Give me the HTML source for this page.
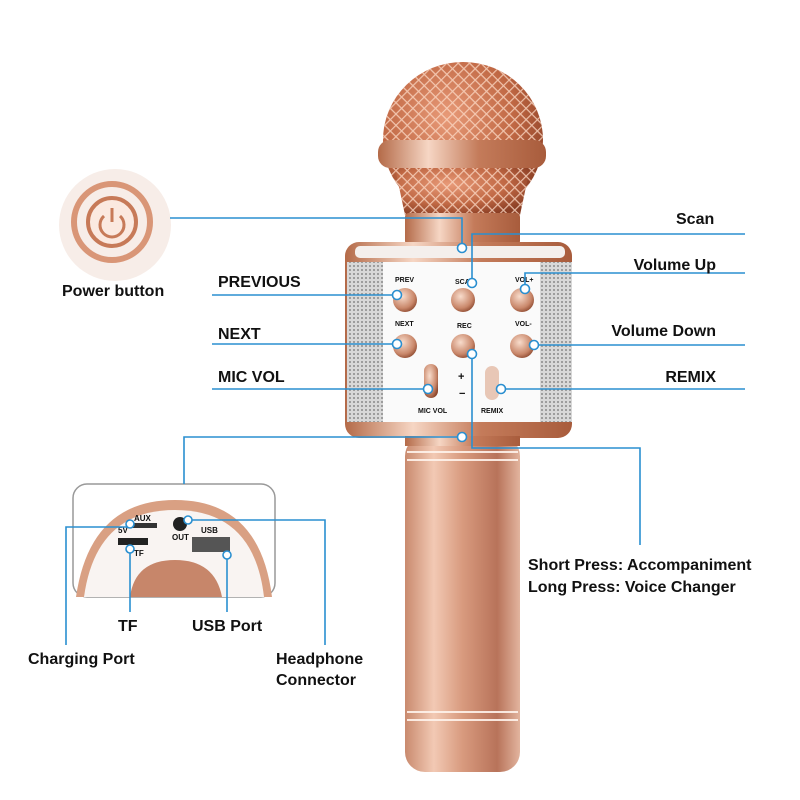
<!DOCTYPE html>
<html><head><meta charset="utf-8"><style>
html,body{margin:0;padding:0;background:#fff;}
svg{display:block}
text{font-family:"Liberation Sans",Arial,sans-serif;font-weight:bold;fill:#111}
</style></head><body>
<svg width="800" height="800" viewBox="0 0 800 800" xmlns="http://www.w3.org/2000/svg">
<defs>
<linearGradient id="rg" x1="0" x2="1" y1="0" y2="0">
<stop offset="0" stop-color="#c98a6e"/><stop offset="0.25" stop-color="#f2c9b4"/><stop offset="0.5" stop-color="#d89a7e"/><stop offset="0.8" stop-color="#b8735a"/><stop offset="1" stop-color="#e2b49e"/></linearGradient>
<linearGradient id="rim" x1="0" x2="1"><stop offset="0" stop-color="#b46a48"/><stop offset="0.3" stop-color="#f6d6c4"/><stop offset="0.6" stop-color="#c47b5a"/><stop offset="1" stop-color="#a85c3c"/></linearGradient>
<radialGradient id="head" cx="0.4" cy="0.35" r="0.7"><stop offset="0" stop-color="#e89a78"/><stop offset="0.6" stop-color="#c06844"/><stop offset="1" stop-color="#8a3e24"/></radialGradient>
<pattern id="mesh" width="8" height="8" patternUnits="userSpaceOnUse" patternTransform="rotate(45)"><path d="M0 0H8M0 0V8" stroke="#fbd8c4" stroke-width="2.4" opacity="0.8"/></pattern>
<pattern id="grill" width="4" height="4" patternUnits="userSpaceOnUse"><rect width="4" height="4" fill="#d8d8d8"/><circle cx="2" cy="2" r="1" fill="#8a8a8a"/></pattern>
<radialGradient id="btn" cx="0.4" cy="0.35" r="0.7"><stop offset="0" stop-color="#f8dccc"/><stop offset="0.7" stop-color="#c9876a"/><stop offset="1" stop-color="#8e4a30"/></radialGradient>
</defs>

<!-- Mic head -->
<ellipse cx="463" cy="140" rx="80" ry="78" fill="url(#head)"/>
<ellipse cx="463" cy="140" rx="80" ry="78" fill="url(#mesh)"/>
<rect x="378" y="140" width="168" height="28" rx="12" fill="url(#rim)"/>
<path d="M395 168 H530 L520 215 H405 Z" fill="url(#head)"/>
<path d="M395 168 H530 L520 215 H405 Z" fill="url(#mesh)"/>
<rect x="405" y="213" width="115" height="32" rx="4" fill="url(#rim)"/>
<!-- Body -->
<rect x="345" y="242" width="227" height="196" rx="14" fill="url(#rim)"/>
<rect x="347" y="262" width="36" height="160" fill="url(#grill)"/>
<rect x="540" y="262" width="32" height="160" fill="url(#grill)"/>
<rect x="383" y="262" width="157" height="160" fill="#fafafa"/>
<rect x="355" y="246" width="210" height="12" rx="5" fill="#f4efec"/>
<!-- buttons -->
<g>
<text x="395" y="282" font-size="7" font-weight="normal">PREV</text>
<text x="455" y="284" font-size="7" font-weight="normal">SCAN</text>
<text x="515" y="282" font-size="7" font-weight="normal">VOL+</text>
<text x="395" y="326" font-size="7" font-weight="normal">NEXT</text>
<text x="457" y="328" font-size="7" font-weight="normal">REC</text>
<text x="515" y="326" font-size="7" font-weight="normal">VOL-</text>
<text x="418" y="413" font-size="7" font-weight="normal">MIC VOL</text>
<text x="481" y="413" font-size="7" font-weight="normal">REMIX</text>
<text x="458" y="380" font-size="11">+</text>
<text x="459" y="397" font-size="11">−</text>
</g>
<circle cx="405" cy="300" r="12" fill="url(#btn)"/>
<circle cx="463" cy="300" r="12" fill="url(#btn)"/>
<circle cx="522" cy="300" r="12" fill="url(#btn)"/>
<circle cx="405" cy="346" r="12" fill="url(#btn)"/>
<circle cx="463" cy="346" r="12" fill="url(#btn)"/>
<circle cx="522" cy="346" r="12" fill="url(#btn)"/>
<rect x="424" y="364" width="14" height="34" rx="7" fill="url(#btn)"/>
<rect x="485" y="366" width="14" height="34" rx="7" fill="#e8c7b6"/>
<!-- handle -->
<rect x="405" y="436" width="115" height="336" rx="20" fill="url(#rg)"/>
<rect x="405" y="436" width="115" height="10" fill="url(#rim)"/>
<g stroke="#fff3ec" stroke-width="2" opacity="0.9">
<line x1="407" y1="452" x2="518" y2="452"/><line x1="407" y1="460" x2="518" y2="460"/>
<line x1="407" y1="712" x2="518" y2="712"/><line x1="407" y1="720" x2="518" y2="720"/>
</g>

<!-- power button inset -->
<circle cx="115" cy="225" r="56" fill="#f7ede8"/>
<circle cx="112" cy="222" r="38" fill="none" stroke="#d99677" stroke-width="6"/>
<circle cx="112" cy="222" r="24" fill="#fbe9e0" stroke="#c77a58" stroke-width="4"/>
<path d="M104 216 A12 12 0 1 0 120 216" fill="none" stroke="#c77a58" stroke-width="3"/>
<line x1="112" y1="208" x2="112" y2="222" stroke="#c77a58" stroke-width="3"/>

<!-- bottom inset -->
<rect x="73" y="484" width="202" height="113" rx="14" fill="#fff" stroke="#999" stroke-width="1.5"/>
<path d="M76 597 Q90 500 175 500 Q260 500 272 597 Z" fill="#d9a083"/>
<path d="M84 597 Q96 510 175 510 Q254 510 264 597 Z" fill="#f9f4f2"/>
<path d="M130 597 Q135 560 175 560 Q215 560 222 597 Z" fill="#c7866a"/>
<rect x="132" y="523" width="25" height="5" fill="#333"/>
<rect x="118" y="538" width="30" height="7" fill="#222"/>
<circle cx="180" cy="524" r="7" fill="#222"/>
<rect x="192" y="537" width="38" height="15" fill="#555"/>
<g font-weight="normal" font-size="8"><text x="134" y="521">AUX</text><text x="118" y="533">5V</text><text x="134" y="556">TF</text><text x="172" y="540">OUT</text><text x="201" y="533">USB</text></g>

<!-- connector lines -->
<g stroke="#2a8fd0" stroke-width="1.6" fill="none">
<polyline points="170,218 462,218 462,248"/>
<polyline points="745,234 472,234 472,283"/>
<polyline points="745,273 525,273 525,289"/>
<line x1="212" y1="295" x2="397" y2="295"/>
<line x1="212" y1="344" x2="397" y2="344"/>
<line x1="212" y1="389" x2="428" y2="389"/>
<line x1="534" y1="345" x2="745" y2="345"/>
<line x1="501" y1="389" x2="745" y2="389"/>
<polyline points="184,484 184,437 462,437"/>
<polyline points="472,354 472,448 640,448 640,545"/>
<polyline points="66,645 66,527 130,527 130,524"/>
<line x1="130" y1="549" x2="130" y2="612"/>
<line x1="227" y1="555" x2="227" y2="612"/>
<polyline points="188,520 325,520 325,645"/>
</g>
<g fill="#fff" stroke="#2a8fd0" stroke-width="1.6">
<circle cx="462" cy="248" r="4.5"/><circle cx="472" cy="283" r="4.5"/><circle cx="525" cy="289" r="4.5"/>
<circle cx="397" cy="295" r="4.5"/><circle cx="397" cy="344" r="4.5"/><circle cx="534" cy="345" r="4.5"/>
<circle cx="472" cy="354" r="4.5"/><circle cx="428" cy="389" r="4.5"/><circle cx="501" cy="389" r="4.5"/>
<circle cx="462" cy="437" r="4.5"/><circle cx="130" cy="524" r="4"/><circle cx="130" cy="549" r="4"/>
<circle cx="227" cy="555" r="4"/><circle cx="188" cy="520" r="4"/>
</g>

<!-- labels -->
<g font-size="16">
<text x="62" y="296">Power button</text>
<text x="676" y="224">Scan</text>
<text x="716" y="270" text-anchor="end">Volume Up</text>
<text x="218" y="287">PREVIOUS</text>
<text x="218" y="339">NEXT</text>
<text x="218" y="382">MIC VOL</text>
<text x="716" y="336" text-anchor="end">Volume Down</text>
<text x="716" y="382" text-anchor="end">REMIX</text>
<text x="528" y="570">Short Press: Accompaniment</text>
<text x="528" y="592">Long Press: Voice Changer</text>
<text x="118" y="631">TF</text>
<text x="192" y="631">USB Port</text>
<text x="28" y="664">Charging Port</text>
<text x="276" y="664">Headphone</text>
<text x="276" y="685">Connector</text>
</g>
</svg>
</body></html>
